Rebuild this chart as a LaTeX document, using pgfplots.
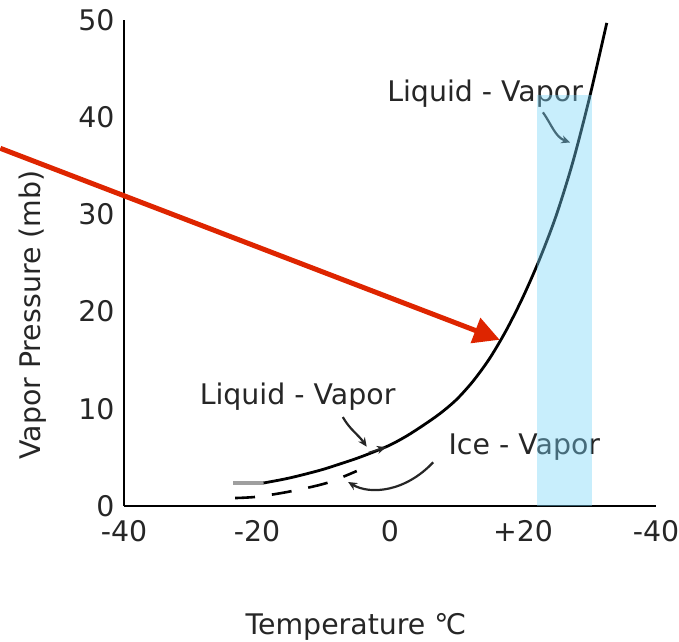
\documentclass[border=0pt]{standalone}
\usepackage{pgfplots}
\pgfplotsset{compat=1.18}
\usepackage{fontspec}
\setmainfont{DejaVu Sans}
\usetikzlibrary{arrows.meta}
\definecolor{bandblue}{RGB}{118,212,248}
\definecolor{arrowred}{RGB}{222,37,0}
\newcommand{\chartfont}{\fontsize{28.5}{32}\selectfont}
\begin{document}
\begin{tikzpicture}
\useasboundingbox (-124bp,-136bp) rectangle (555bp,506bp);
\begin{axis}[
  scale only axis, width=532bp, height=486bp,
  xmin=-40, xmax=40, ymin=0, ymax=50,
  axis lines=left,
  axis line style={-, line width=2.2bp, black},
  xtick={-40,-20,0,20,40},
  xticklabels={-40,-20,0,+20,-40},
  ytick={0,10,20,30,40,50},
  major tick length=0pt,
  tick style={draw=none},
  /pgf/number format/assume math mode=true,
  ticklabel style={font=\chartfont, text=black!85},
  xticklabel style={yshift=-11bp},
  yticklabel style={xshift=-6bp},
  clip=false,
  xlabel={Temperature ℃},
  ylabel={Vapor Pressure (mb)},
  xlabel style={at={(axis description cs:0.436,-0.249)}, anchor=center, font=\chartfont, text=black!85},
  ylabel style={at={(axis description cs:-0.171,0.393)}, anchor=center, font=\chartfont, text=black!85},
]
% gray start of liquid curve
\addplot[gray!75, line width=3.2bp] coordinates {(-23.6,2.37) (-19,2.37)};
% liquid - vapor saturation curve
\addplot[black, line width=2.8bp, smooth] coordinates {
  (-19,2.37) (-17,2.62) (-15,2.90) (-12.5,3.32) (-10,3.78) (-7.5,4.33)
  (-5,4.90) (-2.5,5.55) (0,6.27) (2.5,7.2) (5,8.3) (7.5,9.5) (10,10.95)
  (12.5,12.85) (15,15.2) (17.5,18.1) (20,21.5) (22.5,25.4) (25,29.9)
  (27.5,35.4) (30,42.0) (32.6,49.7)
};
% ice - vapor curve (dashed)
\addplot[black, line width=2.6bp, dash pattern=on 20bp off 17bp, smooth] coordinates {
  (-23.3,0.82) (-20,0.95) (-15,1.5) (-9.5,2.37) (-5,3.6)
};
% labels
\node[anchor=base, font=\chartfont, text=black!85] at (axis cs:14.3,41.6) {Liquid - Vapor};
\node[anchor=base, font=\chartfont, text=black!85] at (axis cs:-13.9,10.4) {Liquid - Vapor};
\node[anchor=base, font=\chartfont, text=black!85] at (axis cs:20.2,5.25) {Ice - Vapor};
% pointer arrows
\draw[black!85, line width=2.2bp, -{Stealth[length=9bp,width=8bp]}]
  (axis cs:23,40.5) to[out=-55,in=160] (axis cs:27.1,37.4);
\draw[black!85, line width=2.2bp, -{Stealth[length=9bp,width=8bp]}]
  (axis cs:-7.1,9.15) to[out=-60,in=125] (axis cs:-3.5,6.1);
\draw[black!85, line width=1.6bp, -{Stealth[length=9bp,width=8bp,open]}]
  (axis cs:-3.2,5.5) -- (axis cs:-0.6,6.05);
\draw[black!85, line width=2.2bp, -{Stealth[length=9bp,width=8bp]}]
  (axis cs:6.5,4.5) .. controls (axis cs:2.3,1.44) and (axis cs:-3.0,1.13) .. (axis cs:-6.3,2.47);
% red arrow
\draw[arrowred, line width=5bp, -{Triangle[length=26bp,width=26bp]}]
  (axis cs:-58.6,36.8) -- (axis cs:16.5,17.1);
% translucent blue band
\fill[bandblue, opacity=0.4] (axis cs:22.1,0) rectangle (axis cs:30.4,42.3);
\end{axis}
\end{tikzpicture}
\end{document}
